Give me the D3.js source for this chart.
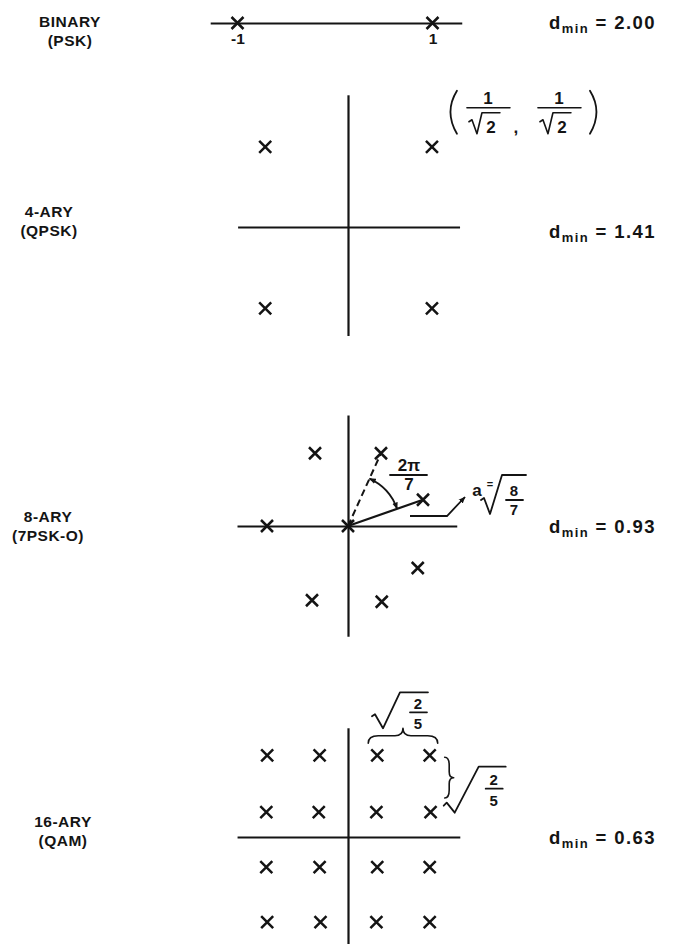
<!DOCTYPE html>
<html>
<head>
<meta charset="utf-8">
<script src="https://cdn.jsdelivr.net/npm/d3@7"></script>
<style>
  body { margin: 0; background: #fff; }
</style>
</head>
<body>
<svg id="chart" width="682" height="944"></svg>
<script>
// ---- data ----
const panelNames = ["BINARY", "4-ARY", "8-ARY", "16-ARY"];
const panelSubs = ["(PSK)", "(QPSK)", "(7PSK-O)", "(QAM)"];
const dminValues = ["2.00", "1.41", "0.93", "0.63"];

// binary: points on one line
const binaryX = [-1, 1];
const binaryTicks = ["-1", "1"];

// 4-ary
const qpskX = [-0.72, 0.73, -0.72, 0.73];
const qpskY = [0.71, 0.71, -0.72, -0.72];

// 8-ary (7 on circle + origin)
const psk7X = [0, 1.00, 0.44, -0.44, -1.08, -0.48, 0.45, 0.93];
const psk7Y = [0, 0.35, 0.97, 0.97, 0, -0.99, -1.01, -0.56];

// 16-ary
const qamX = [-0.94, -0.33, 0.34, 0.95,
              -0.95, -0.34, 0.33, 0.96,
              -0.95, -0.33, 0.34, 0.95,
              -0.94, -0.32, 0.33, 0.95];
const qamY = [0.95, 0.95, 0.95, 0.95,
              0.29, 0.29, 0.29, 0.29,
              -0.35, -0.35, -0.35, -0.35,
              -0.99, -0.99, -0.99, -0.99];

// ---- layout ----
const ink = "#141414";
const font = "'Liberation Sans', Arial, sans-serif";

const layout = [
  {cx: 335, cy: 23, sx: 97.5, sy: 97.5, xExt: [-1.28, 1.30], yExt: null, labelX: 70, labelY: 27, dminY: 29},
  {cx: 348, cy: 227, sx: 115, sy: 113, xExt: [-0.96, 0.97], yExt: [-0.96, 1.17], labelX: 49, labelY: 217, dminY: 238},
  {cx: 348, cy: 526, sx: 75, sy: 75, xExt: [-1.48, 1.45], yExt: [-1.47, 1.48], labelX: 48, labelY: 522, dminY: 533},
  {cx: 348, cy: 837, sx: 86, sy: 86, xExt: [-1.29, 1.30], yExt: [-1.27, 1.27], labelX: 63, labelY: 827, dminY: 844}
];

const svg = d3.select("#chart");

const defs = svg.append("defs");
defs.append("marker")
  .attr("id", "arrow")
  .attr("viewBox", "0 0 10 10")
  .attr("refX", 9).attr("refY", 5)
  .attr("markerWidth", 7).attr("markerHeight", 7)
  .attr("markerUnits", "userSpaceOnUse")
  .attr("orient", "auto-start-reverse")
  .append("path")
  .attr("d", "M0,1 L10,5 L0,9 Z")
  .attr("fill", ink);

function crossPath(h) {
  return `M${-h},${-h}L${h},${h}M${-h},${h}L${h},${-h}`;
}

function makeScales(P) {
  const x = d3.scaleLinear().domain(P.xExt)
    .range([P.cx + P.xExt[0] * P.sx, P.cx + P.xExt[1] * P.sx]);
  const y = P.yExt ? d3.scaleLinear().domain(P.yExt)
    .range([P.cy - P.yExt[0] * P.sy, P.cy - P.yExt[1] * P.sy]) : null;
  return {x, y};
}

function drawCrosses(g, xs, ys, x, y) {
  g.selectAll("path.pt")
    .data(xs.map((d, i) => ({x: d, y: ys[i]})))
    .join("path")
    .attr("class", "pt")
    .attr("d", crossPath(6))
    .attr("transform", d => `translate(${x(d.x)},${y(d.y)})`)
    .attr("stroke", ink)
    .attr("stroke-width", 2.5)
    .attr("fill", "none");
}

function drawAxes(g, x, y) {
  const ax = g.append("g")
    .attr("transform", `translate(0,${y(0)})`)
    .call(d3.axisBottom(x).ticks(0).tickSizeOuter(0));
  const ay = g.append("g")
    .attr("transform", `translate(${x(0)},0)`)
    .call(d3.axisLeft(y).ticks(0).tickSizeOuter(0));
  [ax, ay].forEach(a => a.select(".domain").attr("stroke", ink).attr("stroke-width", 2.2));
}

// left labels and d_min labels
layout.forEach((P, i) => {
  const t = svg.append("text")
    .attr("x", P.labelX).attr("y", P.labelY)
    .attr("text-anchor", "middle")
    .attr("font-family", font).attr("font-weight", "bold")
    .attr("font-size", 15.5).attr("letter-spacing", 0.5)
    .attr("fill", ink);
  t.append("tspan").attr("x", P.labelX).text(panelNames[i]);
  t.append("tspan").attr("x", P.labelX).attr("dy", 19).text(panelSubs[i]);

  const d = svg.append("text")
    .attr("x", 549).attr("y", P.dminY)
    .attr("font-family", font).attr("font-weight", "bold")
    .attr("font-size", 18.5).attr("letter-spacing", 1.4)
    .attr("fill", ink);
  d.append("tspan").text("d");
  d.append("tspan").attr("font-size", 13).attr("dy", 4).text("min");
  d.append("tspan").attr("dy", -4).text(" = " + dminValues[i]);
});

// ---- binary ----
{
  const P = layout[0];
  const {x} = makeScales(P);
  const g = svg.append("g");
  const axis = g.append("g")
    .attr("transform", `translate(0,${P.cy})`)
    .call(d3.axisBottom(x).tickValues(binaryX)
      .tickFormat((d, i) => binaryTicks[i])
      .tickSize(0).tickSizeOuter(0).tickPadding(10));
  axis.select(".domain").attr("stroke", ink).attr("stroke-width", 2.2);
  axis.selectAll("text")
    .attr("font-family", font).attr("font-weight", "bold")
    .attr("font-size", 15.5).attr("fill", ink);
  drawCrosses(g, binaryX, binaryX.map(() => 0), x, () => P.cy);
}

function textAt(g, x, y, s, size, anchor) {
  return g.append("text").attr("x", x).attr("y", y)
    .attr("text-anchor", anchor || "middle")
    .attr("font-family", font).attr("font-weight", "bold")
    .attr("font-size", size).attr("fill", ink).text(s);
}
function stroke(g, d, w) {
  return g.append("path").attr("d", d).attr("fill", "none")
    .attr("stroke", ink).attr("stroke-width", w || 2)
    .attr("stroke-linejoin", "round").attr("stroke-linecap", "round");
}

// ---- 4-ary ----
{
  const P = layout[1];
  const {x, y} = makeScales(P);
  const g = svg.append("g");
  drawAxes(g, x, y);
  drawCrosses(g, qpskX, qpskY, x, y);

  // coordinate note next to the upper-right point
  const ax = x(qpskX[1]), ay = y(qpskY[1]);
  const a = svg.append("g").attr("transform", `translate(${ax},${ay})`);
  stroke(a, "M25,-56 Q12,-35 25,-13", 1.8);
  [0, 71].forEach(o => {
    textAt(a, 56 + o, -43, "1", 17);
    stroke(a, `M${35 + o},-39 H${78 + o}`, 1.6);
    stroke(a, `M${37 + o},-25 L${40 + o},-27 L${45 + o},-13 L${50 + o},-34 H${68 + o}`, 1.6);
    textAt(a, 59 + o, -14, "2", 17);
  });
  textAt(a, 84, -14, ",", 17);
  stroke(a, "M158,-56 Q171,-35 158,-13", 1.8);
}

// ---- 8-ary ----
{
  const P = layout[2];
  const {x, y} = makeScales(P);
  const g = svg.append("g");
  drawAxes(g, x, y);

  const ox = x(0), oy = y(0);
  const rx = x(psk7X[1]), ry = y(psk7Y[1]);
  const dx = x(psk7X[2]), dy = y(psk7Y[2]);
  stroke(g, `M${ox},${oy}L${rx},${ry}`, 2.2);
  stroke(g, `M${ox},${oy}L${dx},${dy}`, 2).attr("stroke-dasharray", "7,4").attr("stroke-linecap", "butt");
  drawCrosses(g, psk7X, psk7Y, x, y);

  // angle arc with arrows at both ends
  const r = 52;
  const a1 = Math.atan2(oy - dy, dx - ox), a2 = Math.atan2(oy - ry, rx - ox);
  g.append("path")
    .attr("d", `M${ox + r * Math.cos(a1)},${oy - r * Math.sin(a1)} A${r},${r} 0 0 1 ${ox + r * Math.cos(a2)},${oy - r * Math.sin(a2)}`)
    .attr("fill", "none").attr("stroke", ink).attr("stroke-width", 1.8)
    .attr("marker-start", "url(#arrow)").attr("marker-end", "url(#arrow)");

  const a = svg.append("g").attr("transform", `translate(${ox},${oy})`);
  textAt(a, 61, -55, "2π", 17);
  stroke(a, "M42,-51 H79", 1.8);
  textAt(a, 61, -36, "7", 17);

  // radius note with leader
  a.append("path").attr("d", "M62,-10 H99 L117,-29")
    .attr("fill", "none").attr("stroke", ink).attr("stroke-width", 1.8)
    .attr("marker-end", "url(#arrow)");
  textAt(a, 129, -30, "a", 17);
  textAt(a, 142, -38, "=", 11);
  stroke(a, "M133,-26 L136,-28 L142,-12 L154,-51 H178", 1.8);
  textAt(a, 166, -30, "8", 15);
  stroke(a, "M158,-26 H175", 1.8);
  textAt(a, 166, -11, "7", 15);
}

// ---- 16-ary ----
{
  const P = layout[3];
  const {x, y} = makeScales(P);
  const g = svg.append("g");
  drawAxes(g, x, y);
  drawCrosses(g, qamX, qamY, x, y);

  // horizontal brace over the two top-right points
  const bx1 = x(qamX[2]) - 9, bx2 = x(qamX[3]) + 8, by = y(qamY[3]) - 12;
  const bm = (bx1 + bx2) / 2, bh = 15;
  stroke(g, `M${bx1},${by} Q${bx1},${by - bh / 2} ${bx1 + 10},${by - bh / 2} L${bm - 8},${by - bh / 2} Q${bm},${by - bh / 2} ${bm},${by - bh} Q${bm},${by - bh / 2} ${bm + 8},${by - bh / 2} L${bx2 - 10},${by - bh / 2} Q${bx2},${by - bh / 2} ${bx2},${by}`, 1.6);
  const t = g.append("g").attr("transform", `translate(${bm},${by - bh})`);
  stroke(t, "M-31,-12 L-28,-14 L-20,0 L-3,-36 H25", 1.8);
  textAt(t, 15, -19, "2", 15);
  stroke(t, "M7,-16 H24", 1.8);
  textAt(t, 15, 1, "5", 15);

  // vertical brace between the two right-hand points
  const vx = x(qamX[3]) + 15, vy1 = y(qamY[3]) + 2, vy2 = y(qamY[7]) - 14;
  const vm = (vy1 + vy2) / 2, vw = 9;
  stroke(g, `M${vx},${vy1} Q${vx + vw / 2},${vy1} ${vx + vw / 2},${vy1 + 8} L${vx + vw / 2},${vm - 6} Q${vx + vw / 2},${vm} ${vx + vw},${vm} Q${vx + vw / 2},${vm} ${vx + vw / 2},${vm + 6} L${vx + vw / 2},${vy2 - 8} Q${vx + vw / 2},${vy2} ${vx},${vy2}`, 1.6);
  const s = g.append("g").attr("transform", `translate(${vx},${vm})`);
  stroke(s, "M-1,28 L2,25 L10,35 L34,-11 H61", 1.8);
  textAt(s, 49, 7, "2", 15);
  stroke(s, "M41,11 H58", 1.8);
  textAt(s, 49, 28, "5", 15);
}
</script>
</body>
</html>
